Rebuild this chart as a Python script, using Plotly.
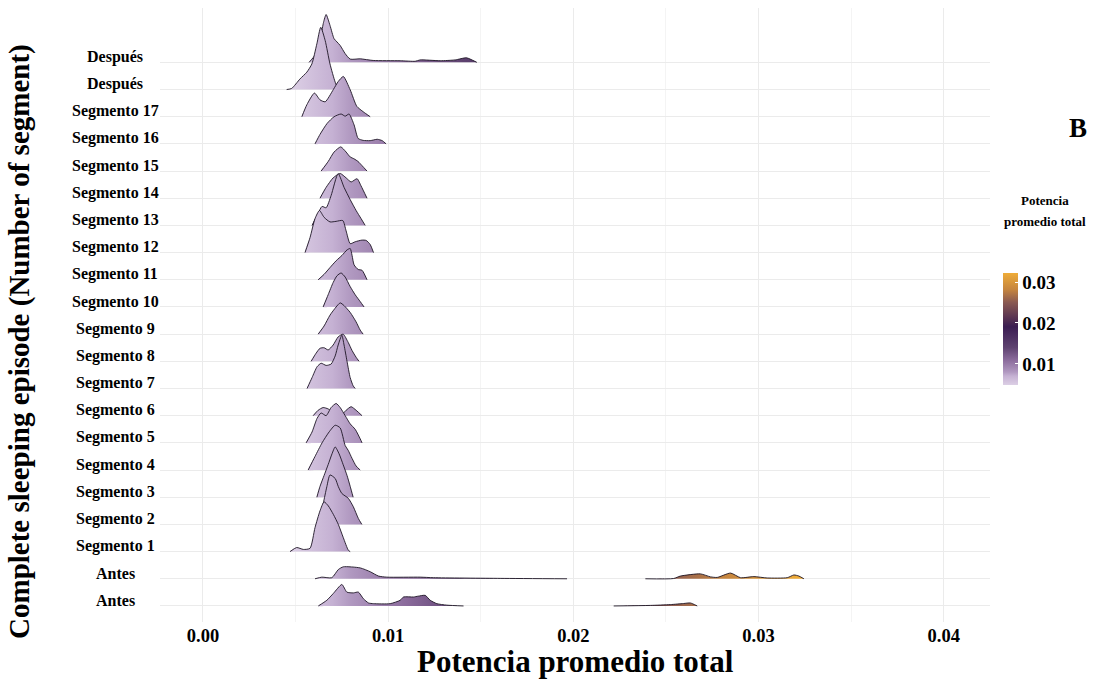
import plotly.graph_objects as go

# ---------------- data (x = Potencia promedio total, h = scaled density in row units) ----------------
labels = ["Antes", "Antes", "Segmento 1", "Segmento 2", "Segmento 3", "Segmento 4", "Segmento 5",
          "Segmento 6", "Segmento 7", "Segmento 8", "Segmento 9", "Segmento 10", "Segmento 11",
          "Segmento 12", "Segmento 13", "Segmento 14", "Segmento 15", "Segmento 16", "Segmento 17",
          "Después", "Después"]

x_antes_a = [0.00623, 0.00669, 0.00704, 0.00750, 0.00777, 0.00812, 0.00839, 0.00866, 0.00894, 0.00921,
             0.01011, 0.01065, 0.01083, 0.01137, 0.01162, 0.01200, 0.01227, 0.01263, 0.01317, 0.01407,
             None, 0.02218, 0.02416, 0.02524, 0.02595, 0.02632, 0.02669]
h_antes_a = [0, 0.21, 0.46, 0.79, 0.51, 0.48, 0.51, 0.27, 0.11, 0.085,
             0.085, 0.21, 0.33, 0.33, 0.36, 0.39, 0.21, 0.085, 0.03, 0,
             None, 0, 0.02, 0.05, 0.09, 0.11, 0]

x_antes_b = [0.00605, 0.00642, 0.00696, 0.00731, 0.00758, 0.00849, 0.00903, 0.00948, 0.00993, 0.01173,
             0.01245, 0.01605, 0.01966,
             None, 0.02389, 0.02542, 0.02578, 0.02686, 0.02741, 0.02777, 0.02849, 0.02903, 0.02975,
             0.03047, 0.03155, 0.03191, 0.03218, 0.03245]
h_antes_b = [0, 0.06, 0.04, 0.34, 0.44, 0.40, 0.26, 0.10, 0.06, 0.06,
             0.04, 0.015, 0,
             None, 0, 0.01, 0.10, 0.18, 0.07, 0.05, 0.21, 0.04, 0.08,
             0.03, 0.04, 0.14, 0.10, 0]

x_seg1 = [0.00470, 0.00506, 0.00542, 0.00578, 0.00605, 0.00632, 0.00654, 0.00677, 0.00704, 0.00731, 0.00758, 0.00785, 0.00795]
h_seg1 = [0, 0.15, 0.08, 0.12, 0.88, 1.5, 1.83, 1.68, 1.37, 1.0, 0.51, 0.05, 0]

x_seg2 = [0.00615, 0.00642, 0.00650, 0.00669, 0.00686, 0.00714, 0.00731, 0.00750, 0.00785, 0.00812, 0.00839, 0.00858]
h_seg2 = [0, 0.52, 0.78, 1.39, 1.82, 1.69, 1.39, 1.14, 0.96, 0.65, 0.22, 0]

x_seg3 = [0.00615, 0.00632, 0.00654, 0.00676, 0.00697, 0.00714, 0.00735, 0.00757, 0.00778, 0.00795, 0.00811]
h_seg3 = [0, 0.4, 0.8, 1.2, 1.6, 1.85, 1.6, 1.2, 0.8, 0.4, 0]

x_seg4 = [0.00568, 0.00605, 0.00643, 0.00681, 0.00714, 0.00741, 0.00768, 0.00784, 0.00805, 0.00827, 0.00849]
h_seg4 = [0, 0.5, 1.0, 1.4, 1.65, 1.55, 0.9, 0.73, 0.43, 0.15, 0]

x_seg5 = [0.00557, 0.00589, 0.00616, 0.00638, 0.00665, 0.00692, 0.00719, 0.00741, 0.00768, 0.00795, 0.00822, 0.00849, 0.00859]
h_seg5 = [0, 0.4, 0.9, 1.1, 1.0, 1.3, 1.45, 1.3, 1.0, 0.7, 0.5, 0.15, 0]

x_seg6 = [0.00595, 0.00622, 0.00649, 0.00676, 0.00703, 0.00730, 0.00751, 0.00773, 0.00800, 0.00827, 0.00859]
h_seg6 = [0, 0.2, 0.3, 0.25, 0.12, 0.05, 0.05, 0.2, 0.33, 0.2, 0]

x_seg7 = [0.00562, 0.00589, 0.00616, 0.00638, 0.00665, 0.00692, 0.00714, 0.00730, 0.00750, 0.00762, 0.00778, 0.00795, 0.00811, 0.00822]
h_seg7 = [0, 0.4, 0.8, 0.93, 0.85, 0.9, 1.2, 1.6, 1.96, 1.6, 1.0, 0.4, 0.1, 0]

x_seg8 = [0.00584, 0.00611, 0.00632, 0.00654, 0.00676, 0.00703, 0.00730, 0.00757, 0.00784, 0.00805, 0.00827, 0.00843]
h_seg8 = [0, 0.3, 0.48, 0.5, 0.42, 0.6, 0.9, 1.0, 0.7, 0.4, 0.15, 0]

x_seg9 = [0.00622, 0.00654, 0.00686, 0.00719, 0.00741, 0.00762, 0.00795, 0.00827, 0.00849, 0.00865]
h_seg9 = [0, 0.3, 0.7, 1.0, 1.15, 1.05, 0.8, 0.45, 0.15, 0]

x_seg10 = [0.00649, 0.00676, 0.00703, 0.00724, 0.00746, 0.00768, 0.00795, 0.00822, 0.00849, 0.00870]
h_seg10 = [0, 0.45, 0.9, 1.15, 1.25, 1.1, 0.75, 0.45, 0.2, 0]

x_seg11 = [0.00622, 0.00654, 0.00686, 0.00719, 0.00751, 0.00778, 0.00795, 0.00805, 0.00816, 0.00838, 0.00859, 0.00886]
h_seg11 = [0, 0.2, 0.45, 0.7, 0.9, 1.1, 1.15, 0.9, 0.55, 0.38, 0.35, 0]

x_seg12 = [0.00551, 0.00578, 0.00605, 0.00629, 0.00654, 0.00686, 0.00719, 0.00755, 0.00773, 0.00795, 0.00822, 0.00858, 0.00881, 0.00903, 0.00921]
h_seg12 = [0, 0.55, 1.25, 1.55, 1.3, 1.13, 1.15, 1.18, 0.8, 0.33, 0.4, 0.46, 0.45, 0.3, 0]

x_seg13 = [0.00589, 0.00622, 0.00643, 0.00665, 0.00692, 0.00730, 0.00762, 0.00795, 0.00827, 0.00854, 0.00876]
h_seg13 = [0, 0.45, 0.7, 0.65, 1.1, 1.91, 1.4, 0.95, 0.55, 0.25, 0]

x_seg14 = [0.00632, 0.00665, 0.00703, 0.00741, 0.00773, 0.00800, 0.00832, 0.00854, 0.00886]
h_seg14 = [0, 0.4, 0.75, 0.91, 0.75, 0.6, 0.72, 0.45, 0]

x_seg15 = [0.00638, 0.00676, 0.00708, 0.00744, 0.00773, 0.00795, 0.00816, 0.00838, 0.00859, 0.00886]
h_seg15 = [0, 0.35, 0.7, 0.89, 0.7, 0.52, 0.45, 0.35, 0.2, 0]

x_seg16 = [0.00605, 0.00632, 0.00670, 0.00708, 0.00746, 0.00768, 0.00789, 0.00816, 0.00838, 0.00865, 0.00903, 0.00941, 0.00968, 0.00989]
h_seg16 = [0, 0.35, 0.75, 1.0, 1.1, 1.02, 1.1, 0.7, 0.2, 0.13, 0.12, 0.17, 0.12, 0]

x_seg17 = [0.00534, 0.00561, 0.00602, 0.00632, 0.00660, 0.00704, 0.00731, 0.00758, 0.00795, 0.00831, 0.00866, 0.00903]
h_seg17 = [0, 0.44, 0.87, 0.62, 0.55, 1.0, 1.3, 1.48, 0.99, 0.38, 0.18, 0]

x_despues_a = [0.00452, 0.00479, 0.00524, 0.00561, 0.00588, 0.00615, 0.00636, 0.00660, 0.00686, 0.00714, 0.00731]
h_despues_a = [0, 0.04, 0.39, 0.64, 0.94, 1.68, 2.29, 1.80, 0.94, 0.27, 0]

x_despues_b = [0.00573, 0.00605, 0.00622, 0.00638, 0.00651, 0.00665, 0.00686, 0.00708, 0.00724, 0.00741, 0.00768,
               0.00795, 0.00849, 0.00919, 0.01065, 0.01146, 0.01173, 0.01281, 0.01362, 0.01422, 0.01443, 0.01479]
h_despues_b = [0, 0.26, 0.5, 1.0, 1.47, 1.76, 1.36, 0.87, 0.75, 0.62, 0.32,
               0.12, 0.13, 0.07, 0.06, 0.04, 0.09, 0.06, 0.09, 0.17, 0.12, 0]

ridges_x = [x_antes_a, x_antes_b, x_seg1, x_seg2, x_seg3, x_seg4, x_seg5, x_seg6, x_seg7, x_seg8, x_seg9,
            x_seg10, x_seg11, x_seg12, x_seg13, x_seg14, x_seg15, x_seg16, x_seg17, x_despues_a, x_despues_b]
ridges_h = [h_antes_a, h_antes_b, h_seg1, h_seg2, h_seg3, h_seg4, h_seg5, h_seg6, h_seg7, h_seg8, h_seg9,
            h_seg10, h_seg11, h_seg12, h_seg13, h_seg14, h_seg15, h_seg16, h_seg17, h_despues_a, h_despues_b]

x_ticks = [0.00, 0.01, 0.02, 0.03, 0.04]
x_tick_text = ["0.00", "0.01", "0.02", "0.03", "0.04"]
cbar_ticks = [0.01, 0.02, 0.03]
cbar_text = ["0.01", "0.02", "0.03"]
cmin, cmax = 0.0048, 0.0322

# ---------------- styling ----------------
SERIF = "Liberation Serif"
colorscale = [[0.0, "#dccfe5"], [0.08, "#c5b1d3"], [0.117, "#b098c0"], [0.226, "#8a6a9b"],
              [0.336, "#5e4270"], [0.52, "#3b1d52"], [0.74, "#8b5a52"], [0.85, "#c4843f"], [1.0, "#efac38"]]


def split_pieces(xs, hs):
    pieces, cx, ch = [], [], []
    for a, b in zip(xs, hs):
        if a is None:
            pieces.append((cx, ch))
            cx, ch = [], []
        else:
            cx.append(a)
            ch.append(b)
    pieces.append((cx, ch))
    return pieces


fig = go.Figure()
n = len(labels)
# draw from top row to bottom row so lower ridges overlay upper ones
for idx in reversed(range(n)):
    base = idx + 1
    for px, ph in split_pieces(ridges_x[idx], ridges_h[idx]):
        ys = [base + v for v in ph]
        fig.add_trace(go.Scatter(
            x=px + px[::-1], y=ys + [base] * len(px), mode="lines", fill="toself",
            line=dict(width=0, shape="spline", smoothing=0.6),
            fillgradient=dict(type="horizontal", colorscale=colorscale, start=cmin, stop=cmax),
            hoverinfo="skip", showlegend=False))
        fig.add_trace(go.Scatter(
            x=px, y=ys, mode="lines", line=dict(color="#1c1424", width=0.9, shape="spline", smoothing=0.6),
            hoverinfo="skip", showlegend=False))

# colour bar carrier
fig.add_trace(go.Scatter(
    x=[None], y=[None], mode="markers", showlegend=False, hoverinfo="skip",
    marker=dict(color=[cmin], colorscale=colorscale, cmin=cmin, cmax=cmax, showscale=True,
                colorbar=dict(x=1.0157, xanchor="left", y=0.477, yanchor="middle",
                              len=112, lenmode="pixels", thickness=15, thicknessmode="pixels",
                              outlinewidth=0, xpad=0, ypad=0,
                              tickvals=cbar_ticks, ticktext=cbar_text, ticks="inside",
                              tickcolor="white", ticklen=3,
                              tickfont=dict(family=SERIF, size=19, color="black", weight="bold")))))

# centred row labels (ridge-style axis text)
row_annotations = [
    dict(text=lab, x=-0.0542, y=i + 1.2, xref="paper", yref="y", showarrow=False,
         xanchor="center", yanchor="middle",
         font=dict(family=SERIF, size=16, color="black", weight="bold"))
    for i, lab in enumerate(labels)
]

yr = [0.41, 23.0]
fig.update_layout(
    width=1117, height=679,
    margin=dict(l=160, r=127, t=8, b=57),
    paper_bgcolor="white", plot_bgcolor="white",
    xaxis=dict(range=[-0.00232, 0.0425], tickvals=x_ticks, ticktext=x_tick_text,
               showgrid=True, gridcolor="#ebebeb", gridwidth=1, zeroline=False, showline=False,
               ticks="", tickfont=dict(family=SERIF, size=18.5, color="black", weight="bold"),
               minor=dict(dtick=0.005, tick0=0, showgrid=True, gridcolor="#f4f4f4", gridwidth=1)),
    yaxis=dict(range=yr, tickvals=list(range(1, n + 1)), showticklabels=False,
               showgrid=True, gridcolor="#ebebeb", gridwidth=1, zeroline=False, showline=False, ticks=""),
    annotations=row_annotations + [
        dict(text="Complete sleeping episode (Number of segment)", x=-0.1687, y=0.4577,
             xref="paper", yref="paper", textangle=-90, showarrow=False,
             xanchor="center", yanchor="middle",
             font=dict(family=SERIF, size=29, color="black", weight="bold")),
        dict(text="Potencia promedio total", x=0.5, y=-0.0651, xref="paper", yref="paper",
             showarrow=False, xanchor="center", yanchor="middle",
             font=dict(family=SERIF, size=31, color="black", weight="bold")),
        dict(text="B", x=1.106, y=0.8046, xref="paper", yref="paper", showarrow=False,
             xanchor="center", yanchor="middle",
             font=dict(family=SERIF, size=27, color="black", weight="bold")),
        dict(text="Potencia", x=1.0663, y=0.6857, xref="paper", yref="paper",
             showarrow=False, xanchor="center", yanchor="middle",
             font=dict(family=SERIF, size=13, color="black", weight="bold")),
        dict(text="promedio total", x=1.0663, y=0.6515, xref="paper", yref="paper",
             showarrow=False, xanchor="center", yanchor="middle",
             font=dict(family=SERIF, size=13, color="black", weight="bold")),
    ],
)

fig.write_html("out.html")
